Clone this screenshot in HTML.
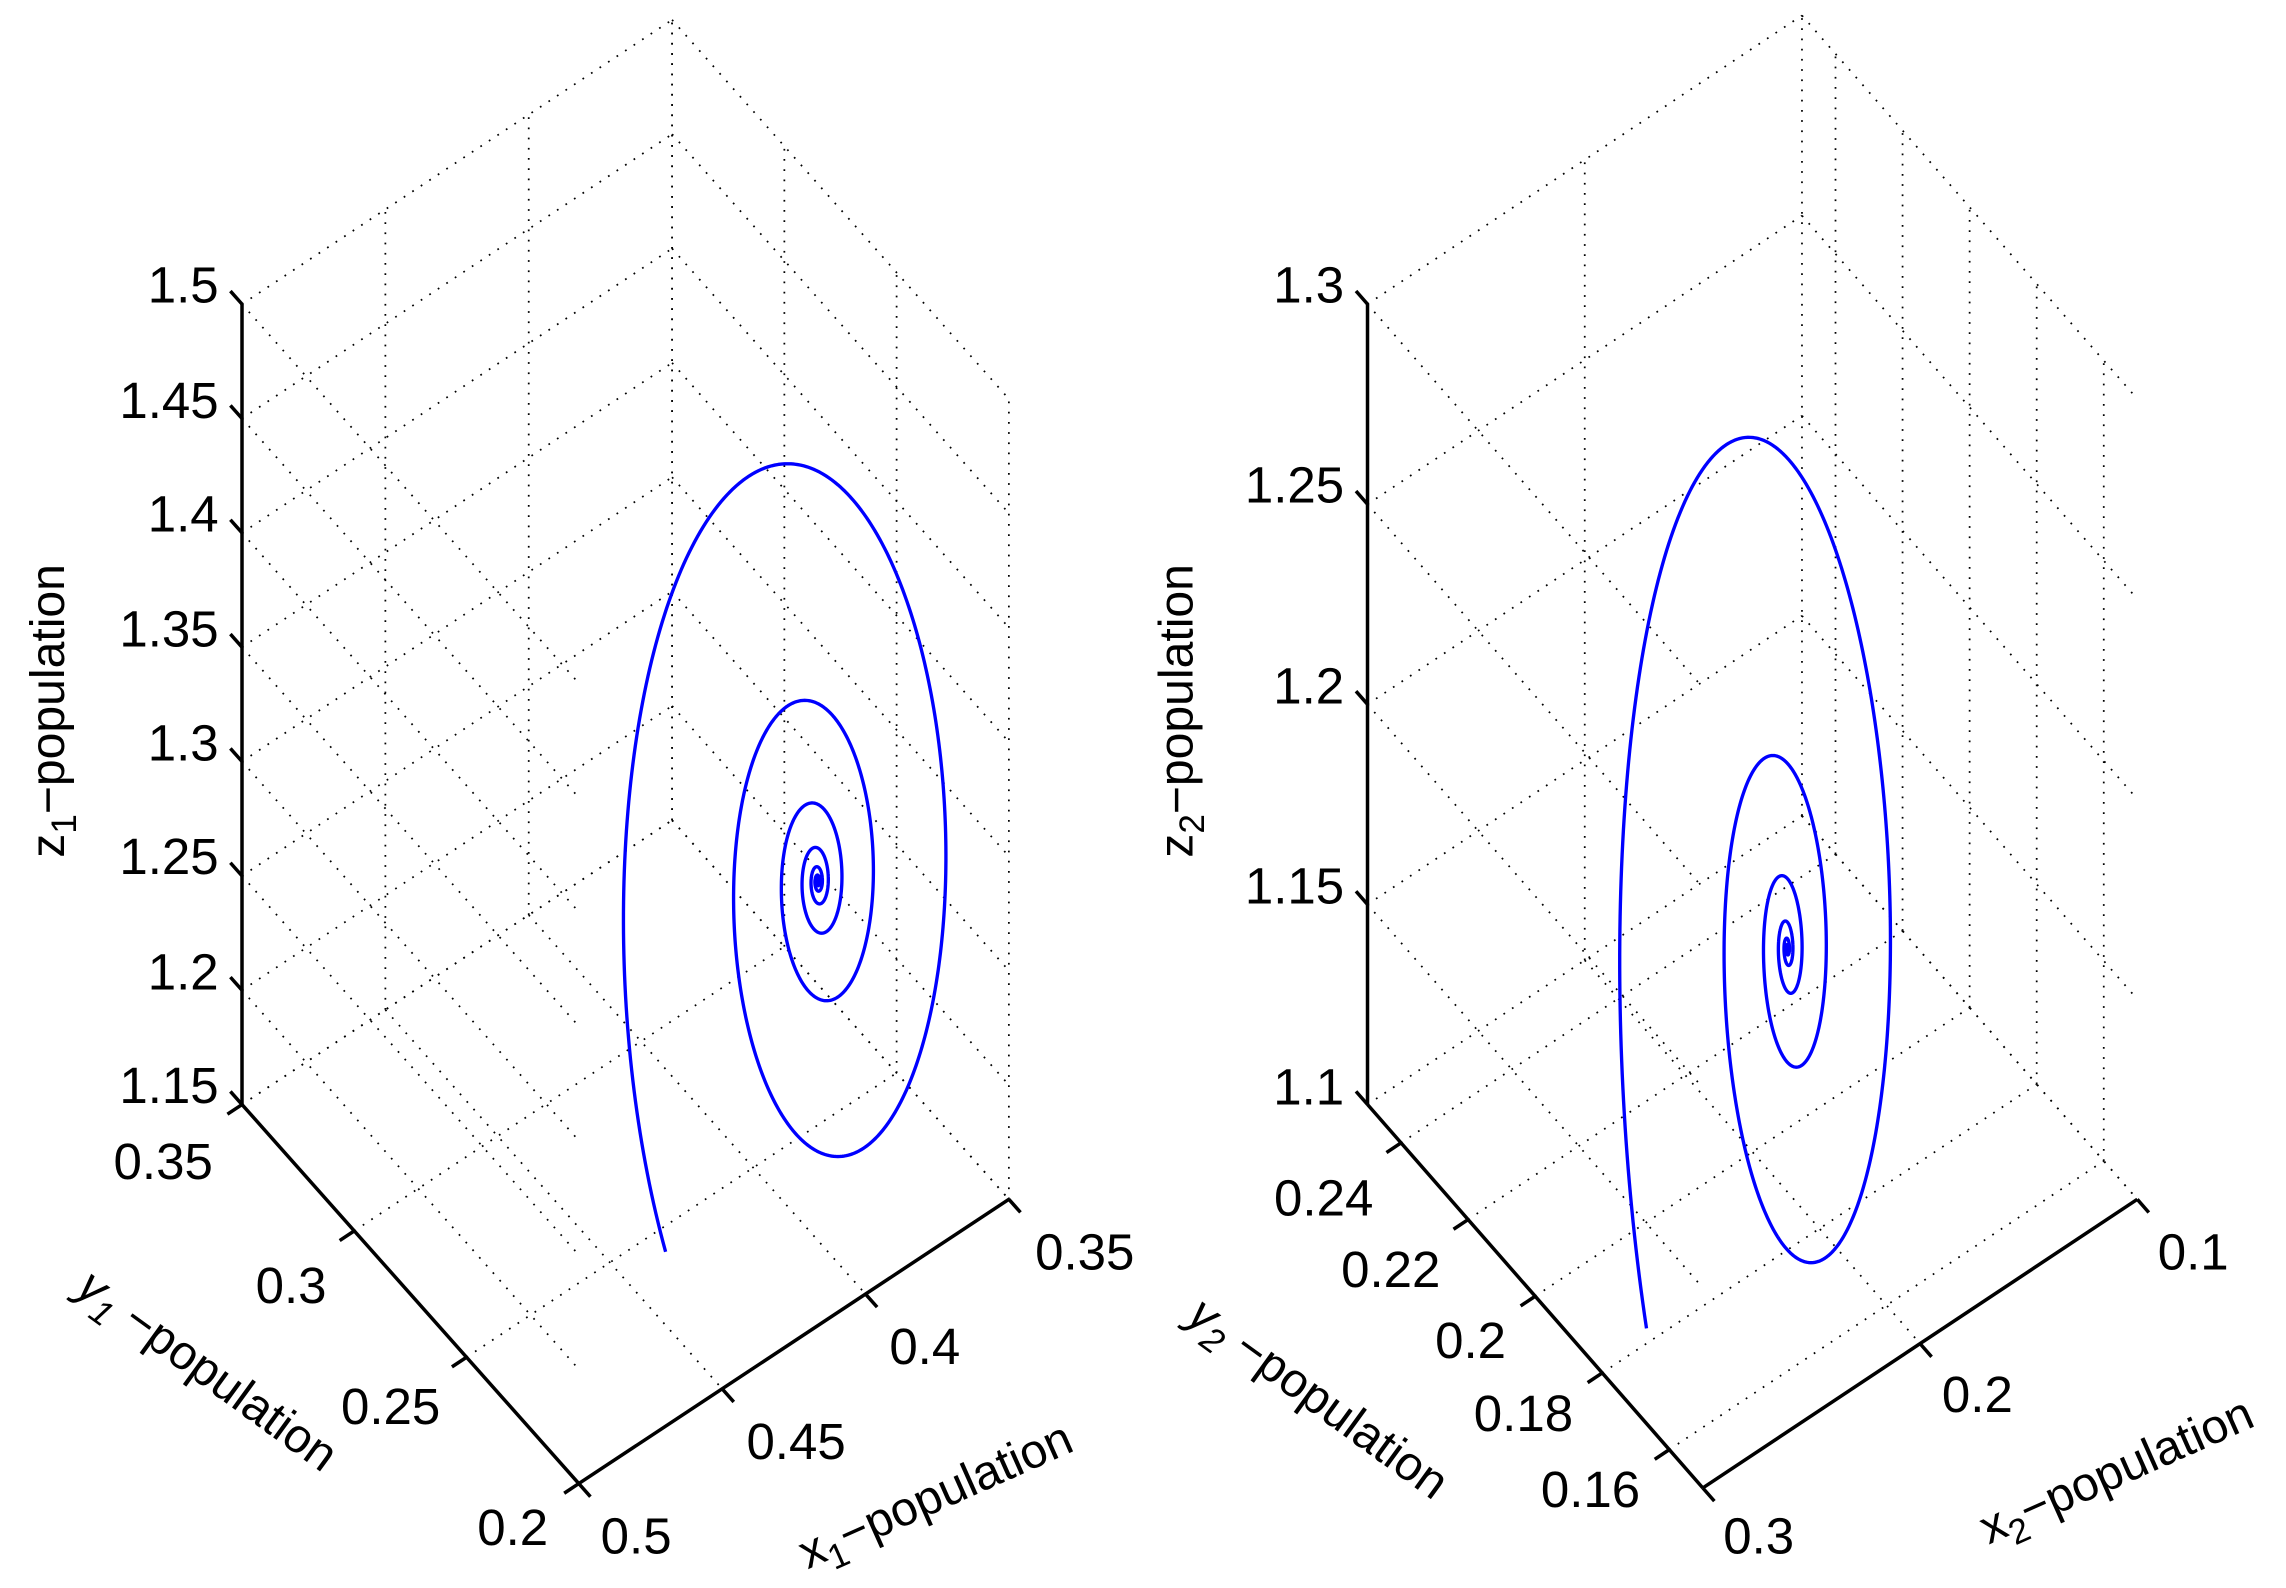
<!DOCTYPE html>
<html><head><meta charset="utf-8"><style>
html,body{margin:0;padding:0;background:#fff;}
svg{display:block;}
text{font-family:"Liberation Sans",Arial,sans-serif;fill:#000;}
</style></head><body>
<svg id="s" width="2286" height="1588" viewBox="0 0 1568 1088" xmlns="http://www.w3.org/2000/svg">
<rect width="1568" height="1088" fill="#fff"/>
<g id="grid" stroke="#000" stroke-width="1.2" stroke-dasharray="1.2 5.8" fill="none"></g>
<g id="axes" stroke="#000" stroke-width="2.4" fill="none"></g>
<g id="curves" stroke="#0000ff" stroke-width="2.3" fill="none" stroke-linejoin="round"></g>
<g font-size="35" text-anchor="end">
<text x="150" y="207">1.5</text>
<text x="150" y="286">1.45</text>
<text x="150" y="364">1.4</text>
<text x="150" y="443">1.35</text>
<text x="150" y="521">1.3</text>
<text x="150" y="599">1.25</text>
<text x="150" y="678">1.2</text>
<text x="150" y="756">1.15</text>
<text x="146" y="808">0.35</text>
<text x="224" y="893">0.3</text>
<text x="302" y="976">0.25</text>
<text x="376" y="1059">0.2</text>
<text x="922" y="207">1.3</text>
<text x="922" y="344">1.25</text>
<text x="922" y="482">1.2</text>
<text x="922" y="619">1.15</text>
<text x="922" y="757">1.1</text>
<text x="942" y="833">0.24</text>
<text x="988" y="882">0.22</text>
<text x="1033" y="931">0.2</text>
<text x="1079" y="981">0.18</text>
<text x="1125" y="1033">0.16</text>
</g>
<g font-size="35" text-anchor="start">
<text x="412" y="1065">0.5</text>
<text x="512" y="1000">0.45</text>
<text x="610" y="935">0.4</text>
<text x="710" y="870">0.35</text>
<text x="1182" y="1065">0.3</text>
<text x="1332" y="968">0.2</text>
<text x="1480" y="870">0.1</text>
</g>
<g font-size="33">
<text transform="translate(44,487) rotate(-90)" text-anchor="middle">z<tspan font-size="24" dy="8">1</tspan><tspan dy="-8">−population</tspan></text>
<text transform="translate(818,487) rotate(-90)" text-anchor="middle">z<tspan font-size="24" dy="8">2</tspan><tspan dy="-8">−population</tspan></text>
<text transform="translate(136,948) rotate(36)" text-anchor="middle" font-style="italic">y<tspan font-size="24" dy="8">1</tspan><tspan dy="-8" font-style="normal"> −population</tspan></text>
<text transform="translate(898,967) rotate(36)" text-anchor="middle" font-style="italic">y<tspan font-size="24" dy="8">2</tspan><tspan dy="-8" font-style="normal"> −population</tspan></text>
<text transform="translate(646,1035) rotate(-24)" text-anchor="middle">x<tspan font-size="24" dy="8">1</tspan><tspan dy="-8">−population</tspan></text>
<text transform="translate(1456,1018) rotate(-24)" text-anchor="middle">x<tspan font-size="24" dy="8">2</tspan><tspan dy="-8">−population</tspan></text>
</g>
<script>
(function(){
var NS="http://www.w3.org/2000/svg";
function ln(g,x1,y1,x2,y2){var l=document.createElementNS(NS,"line");l.setAttribute("x1",x1);l.setAttribute("y1",y1);l.setAttribute("x2",x2);l.setAttribute("y2",y2);document.getElementById(g).appendChild(l);}
function plot(O,X,Y,Z,at,bt,ct){
 function P(a,b,c){return [O[0]+a*X[0]+b*Y[0]+c*Z[0],O[1]+a*X[1]+b*Y[1]+c*Z[1]];}
 function L(g,p,q){ln(g,p[0],p[1],q[0],q[1]);}
 ct.forEach(function(c){L("grid",P(0,0,c),P(1,0,c));L("grid",P(1,0,c),P(1,1,c));L("grid",P(0,0,c),P(0,1,c));});
 at.forEach(function(a){L("grid",P(a,0,0),P(a,0,1));L("grid",P(a,0,0),P(a,1,0));});
 bt.forEach(function(b){L("grid",P(1,b,0),P(1,b,1));L("grid",P(0,b,0),P(1,b,0));});
 L("axes",P(0,0,0),P(0,0,1));L("axes",P(0,0,0),P(0,1,0));L("axes",P(0,1,0),P(1,1,0));
 function nrm(v,s){var d=Math.hypot(v[0],v[1]);return [v[0]/d*s,v[1]/d*s];}
 var tz=nrm([-Y[0],-Y[1]],12), ty=nrm([-X[0],-X[1]],12), tx=nrm(Y,12);
 ct.forEach(function(c){var p=P(0,0,c);ln("axes",p[0],p[1],p[0]+tz[0],p[1]+tz[1]);});
 bt.forEach(function(b){var p=P(0,b,0);ln("axes",p[0],p[1],p[0]+ty[0],p[1]+ty[1]);});
 at.forEach(function(a){var p=P(a,1,0);ln("axes",p[0],p[1],p[0]+tx[0],p[1]+tx[1]);});
}
plot([166,757],[295,-195],[231,260],[0,-549],[0,1/3,2/3,1],[0,1/3,2/3,1],[0,1/7,2/7,3/7,4/7,5/7,6/7,1]);
plot([938,757],[298,-198],[230,263],[0,-549],[0,0.5,1],[0.1,0.3,0.5,0.7,0.9],[0,0.25,0.5,0.75,1]);
function spiral(cx,cy,a,b,k,tilt,p0){
 var d="",first=true;
 for(var p=p0;p<60*Math.PI;p+=0.02){
  var r=Math.exp(-k*p); if(r<0.002)break;
  var x=cx-a*r*Math.cos(p)-tilt*b*r*Math.sin(p);
  var y=cy-b*r*Math.sin(p);
  d+=(first?"M":"L")+x.toFixed(2)+" "+y.toFixed(2);first=false;
 }
 var e=document.createElementNS(NS,"path");e.setAttribute("d",d);document.getElementById("curves").appendChild(e);
}
spiral(561,604,133,350,0.133,0.022,-0.72);
spiral(1226,650,115,442,0.155,0.035,-0.57);
})();
</script>
</svg>
</body></html>
